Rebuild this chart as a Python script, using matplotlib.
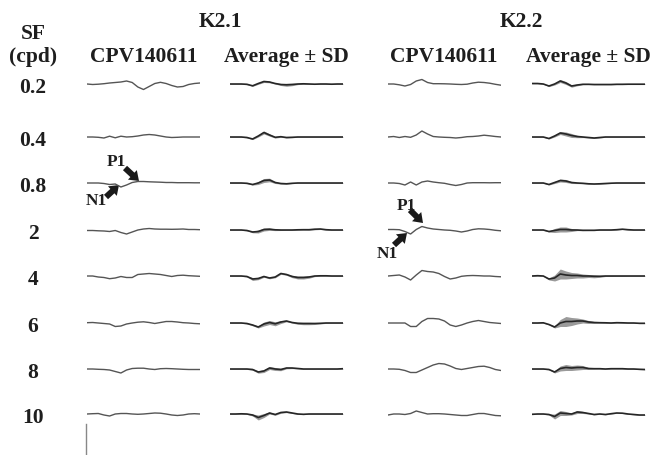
import matplotlib.pyplot as plt
import numpy as np

# ---------------------------------------------------------
# DATA (amplitude in arbitrary units)
# ---------------------------------------------------------
sf_labels = ["0.2", "0.4", "0.8", "2", "4", "6", "8", "10"]
groups = ["K2.1", "K2.2"]
col_titles = ["CPV140611", "Average \u00b1 SD"]

t_ms = [0, 15, 30, 45, 60, 75, 90, 105, 120, 135, 150,
        165, 180, 195, 210, 225, 240, 255, 270, 285, 300]

k21_cpv = [
    [0, -0.5, -0.2, 0.3, 1.0, 1.5, 2.0, 3.0, 1.5, -3.0, -5.5, -2.5, 0.5, 1.7, 0.5, -1.5, -3.0, -2.5, -0.5, 0.5, 1.0],
    [0, 0, -0.3, -1.0, 0.8, -0.8, 0.8, 0, 0.3, 1.0, 2.0, 2.5, 2.0, 1.0, 0, -0.5, -0.3, 0, 0, 0, 0],
    [0, 0, 0, -0.5, -1.5, -1.0, -4.0, -2.0, 0.5, 1.5, 1.5, 1.2, 1.0, 0.8, 0.5, 0.5, 0.3, 0.3, 0.3, 0.2, 0.2],
    [-0.5, -0.5, -0.8, -1.0, -1.5, -0.5, -2.5, -4.0, -2.0, 0, 1.0, 1.5, 1.0, 0.8, 0.8, 0.7, 0.8, 1.0, 0.5, 0.5, 0.3],
    [0, 0, -1.0, -1.5, -2.7, -2.0, -0.5, -1.5, -1.5, 1.5, 2.0, 2.5, 2.0, 1.5, 0.5, -0.5, 0.5, 0.8, 0.3, 0, -0.3],
    [0.3, 0.5, 0, -0.5, -1.0, -3.5, -3.0, -1.0, 0, 0.8, 1.2, 0.5, -0.5, 0.5, 1.5, 1.5, 1.0, 0.3, 0, -0.5, -0.8],
    [0, 0, -0.3, -0.5, -1.0, -2.5, -4.0, -1.0, 0.5, 0.8, 0.8, 0, -0.5, 0.3, 0.5, 0.3, 0, -0.3, -0.5, -0.5, -0.5],
    [0, 0.3, 0.5, -1.0, -2.0, 0, 0.5, 0.5, 0, -0.3, 0, 0.5, 1.0, 0.8, 0, -1.0, -1.5, -1.0, 0, 0.3, 0],
]

k21_avg = [
    [0, 0, 0, -0.3, -1.8, 0.5, 2.5, 2.0, 0.5, -0.5, -0.8, -0.5, 0, 0.2, 0, -0.2, 0, 0, -0.2, 0, 0],
    [0, 0, 0, -0.5, -2.0, 1.0, 4.5, 2.0, -0.3, 0.3, -0.5, -0.3, 0, 0, 0, 0, 0, 0, 0, 0, 0],
    [0, 0, 0, -0.3, -1.5, 0, 2.5, 3.0, 0.5, -0.5, -0.8, -0.3, 0, 0, 0, 0, 0, 0, 0, 0, 0],
    [0, 0, 0, -0.5, -2.0, -1.5, 0.5, 0.8, 0.2, 0, 0, 0, 0.2, 0.3, 0.3, 0.8, 1.0, 0.3, 0, 0, 0],
    [0, 0, 0, -0.5, -3.0, -2.5, -0.5, -2.0, -1.0, 2.5, 1.5, -0.5, -1.5, -1.5, -1.0, 0, 0.2, 0.2, 0, 0, 0],
    [0, 0, 0, -0.5, -2.0, -4.0, -1.0, 0.5, -0.8, 1.0, 2.0, 0.5, -0.3, -0.5, -0.5, -0.5, -0.3, 0, 0, 0, 0],
    [0, 0, 0, 0, -0.5, -3.0, -2.0, 1.0, 0, -0.5, 1.0, 1.0, 0.5, 0, 0, 0, 0, 0, 0, 0, 0.3],
    [0, 0, 0.2, 0, -1.0, -3.5, -1.5, 1.0, -0.5, 1.5, 2.0, 1.0, 0, -0.3, 0, 0, 0, 0, 0, 0, 0],
]

k21_sd = [
    [0.3, 0.3, 0.3, 0.4, 0.6, 0.8, 1.0, 0.8, 0.6, 1.0, 1.5, 1.2, 0.6, 0.4, 0.3, 0.3, 0.3, 0.3, 0.3, 0.3, 0.3],
    [0.3, 0.3, 0.3, 0.4, 0.6, 1.0, 1.5, 1.2, 0.8, 0.6, 0.5, 0.4, 0.3, 0.3, 0.3, 0.3, 0.3, 0.3, 0.3, 0.3, 0.3],
    [0.3, 0.3, 0.3, 0.4, 0.6, 1.5, 2.0, 1.8, 1.0, 0.6, 0.4, 0.3, 0.3, 0.3, 0.3, 0.3, 0.3, 0.3, 0.3, 0.3, 0.3],
    [0.3, 0.3, 0.3, 0.4, 0.8, 1.5, 1.5, 1.2, 0.8, 0.5, 0.4, 0.4, 0.4, 0.4, 0.5, 0.6, 0.5, 0.4, 0.3, 0.3, 0.3],
    [0.3, 0.3, 0.3, 0.5, 1.5, 1.2, 0.8, 0.8, 0.8, 0.8, 0.8, 1.2, 1.5, 1.5, 1.2, 0.6, 0.4, 0.3, 0.3, 0.3, 0.3],
    [0.3, 0.3, 0.3, 0.5, 0.8, 1.0, 2.0, 2.0, 2.0, 1.5, 0.8, 0.6, 1.0, 1.2, 1.2, 1.0, 0.6, 0.4, 0.3, 0.3, 0.3],
    [0.3, 0.3, 0.3, 0.4, 0.8, 1.2, 1.5, 1.5, 1.5, 1.2, 0.8, 0.6, 0.4, 0.3, 0.3, 0.3, 0.3, 0.3, 0.3, 0.3, 0.3],
    [0.3, 0.3, 0.3, 0.4, 1.0, 2.5, 2.0, 1.0, 0.8, 0.8, 0.6, 0.5, 0.4, 0.3, 0.3, 0.3, 0.3, 0.3, 0.3, 0.3, 0.3],
]

k22_cpv = [
    [0, 0, -0.8, -2.0, -0.5, 3.0, 4.5, 1.5, 0.3, 0.3, 0.2, 0, -0.3, -0.5, -0.2, 1.0, 1.8, 1.5, 0.8, -0.3, -1.2],
    [0, 0.5, -0.5, 0.5, -0.3, 2.0, 6.0, 3.0, 0.5, 0, -0.3, -0.5, -1.0, -0.5, 0.3, 0.5, 1.0, 1.8, 1.2, 0.5, 0],
    [0, 0, -0.5, -2.0, 1.0, -2.0, 1.0, 2.0, 1.0, 0.3, -0.3, -1.5, -2.5, -1.5, 0, 0.3, 0.3, 0.3, 0.2, 0.3, 0.3],
    [0.5, 0.5, 0.3, -1.5, -4.0, 0.5, 3.5, 2.0, 1.0, 0.5, 0, -0.3, -1.0, -2.0, -1.0, 0.5, 1.2, 1.0, 0.5, -0.3, -0.8],
    [0, 0.5, 1.0, -1.0, -4.0, 1.0, 5.5, 4.5, 4.0, 2.5, -0.5, -3.0, -2.0, -0.3, 0.3, 0.5, 0.3, 0, 0, -0.5, -0.8],
    [0, 0, 0, 0, -3.5, -3.5, 1.5, 4.5, 4.5, 4.0, 2.0, -2.0, -3.5, -2.0, 0, 1.5, 2.5, 1.5, 0.5, 0, -0.5],
    [0, 0, -0.3, -1.5, -3.5, -3.5, -1.0, 1.5, 4.0, 5.5, 5.0, 3.0, 0.5, -0.5, 0.5, 1.5, 2.5, 2.8, 1.5, -0.5, -1.5],
    [-1.0, 0, 0, -0.5, 0.5, 3.0, 1.5, 0, 0.3, 0.3, 0, -0.5, -1.0, -1.5, -1.5, -0.5, 0.5, 0.5, -0.5, -1.5, -1.8],
]

k22_avg = [
    [0.5, 0.5, 0, -2.0, 0, 3.0, 1.0, -2.0, -1.0, -0.3, -0.3, -0.5, -0.5, -0.5, -0.5, -0.3, -0.3, -0.2, -0.2, -0.2, -0.2],
    [0, 0, 0, -1.5, 1.0, 4.0, 3.0, 1.5, 0.5, 0, -0.5, -1.0, -0.5, 0, 0, 0, 0, 0, 0, 0, 0],
    [0, 0, 0, -1.5, 0.5, 2.5, 2.0, 0.5, 0, -0.3, -0.8, -1.0, -0.8, -0.5, -0.2, 0, 0, 0, 0, 0, 0],
    [0, 0, 0, -1.5, -0.5, 0.5, 0.5, 0, 0, -0.3, -0.3, -0.3, 0, 0, 0, 0.3, 0.8, 0.3, 0, 0, 0],
    [0, 0.3, 0, -3.0, -2.0, 2.0, 1.0, 0.5, 0.5, 0, 0, -0.3, -0.3, 0, 0, 0, 0, 0, 0, 0, 0],
    [0, 0, 0.2, -1.5, -4.0, 0, 1.5, 1.5, 2.0, 2.0, 1.0, 0.5, 0.3, 0.2, 0, 0.3, 0.2, 0, 0, -0.3, -0.3],
    [0, 0, 0, -0.5, -3.0, 0.5, 1.5, 1.0, 1.5, 1.5, 0.5, 0.3, 0.3, 0, 0.3, 0.3, 0.3, 0, 0, -0.3, -0.5],
    [-0.3, 0, 0, -0.5, -2.5, 1.0, 0.5, 0, 2.0, 1.5, 0.5, -0.5, 0, -0.5, 0.3, 1.0, 0.8, 0, -0.5, -1.0, -1.0],
]

k22_sd = [
    [0.3, 0.3, 0.3, 0.6, 1.0, 1.5, 1.5, 1.2, 0.8, 0.4, 0.3, 0.3, 0.3, 0.3, 0.3, 0.3, 0.3, 0.3, 0.3, 0.3, 0.3],
    [0.3, 0.3, 0.3, 0.5, 1.0, 1.5, 2.0, 2.0, 1.2, 0.6, 0.5, 0.5, 0.4, 0.3, 0.3, 0.3, 0.3, 0.3, 0.3, 0.3, 0.3],
    [0.3, 0.3, 0.3, 0.5, 1.0, 1.5, 1.5, 1.0, 0.6, 0.4, 0.3, 0.3, 0.3, 0.3, 0.3, 0.3, 0.3, 0.3, 0.3, 0.3, 0.3],
    [0.3, 0.3, 0.3, 0.6, 2.0, 2.5, 2.5, 1.5, 0.6, 0.4, 0.3, 0.3, 0.3, 0.3, 0.3, 0.3, 0.3, 0.3, 0.3, 0.3, 0.3],
    [0.3, 0.3, 0.3, 1.0, 3.0, 5.0, 4.0, 3.0, 2.5, 2.0, 1.5, 1.5, 1.0, 0.5, 0.5, 0.4, 0.4, 0.3, 0.3, 0.3, 0.3],
    [0.3, 0.3, 0.3, 0.5, 1.0, 3.5, 5.0, 4.0, 3.0, 2.0, 1.5, 1.0, 0.5, 0.4, 0.3, 0.3, 0.3, 0.3, 0.3, 0.3, 0.3],
    [0.3, 0.3, 0.3, 0.4, 1.0, 2.5, 3.0, 2.5, 2.5, 2.0, 1.0, 0.4, 0.3, 0.3, 0.3, 0.3, 0.3, 0.3, 0.3, 0.3, 0.3],
    [0.3, 0.3, 0.3, 0.5, 2.5, 2.5, 2.0, 1.0, 1.5, 1.0, 0.5, 0.4, 0.3, 0.3, 0.3, 0.3, 0.3, 0.3, 0.3, 0.3, 0.3],
]

# ---------------------------------------------------------
# LAYOUT (pixels of the 656 x 456 canvas)
# ---------------------------------------------------------
W, H = 656, 456
col_x0 = [87, 230, 388, 532]
col_w = 113
row_y = [85, 138, 184, 231, 277, 324, 370, 415]
half_h = 15          # panel half height in px, 1 unit = 1 px

txt_col = "#1e1e1e"
serif = ["Liberation Serif", "DejaVu Serif"]

fig = plt.figure(figsize=(W / 100, H / 100), dpi=100)

# overlay axes in pixel units for text, arrows, scale bar
ov = fig.add_axes([0, 0, 1, 1])
ov.set_xlim(0, W)
ov.set_ylim(H, 0)
ov.axis("off")


def panel(col, row):
    ax = fig.add_axes([col_x0[col] / W, 1 - (row_y[row] + half_h) / H,
                       col_w / W, 2 * half_h / H])
    ax.set_xlim(t_ms[0], t_ms[-1])
    ax.set_ylim(-half_h, half_h)
    ax.axis("off")
    return ax


t = np.array(t_ms)
for g, (cpv, avg, sd) in enumerate([(k21_cpv, k21_avg, k21_sd),
                                     (k22_cpv, k22_avg, k22_sd)]):
    for r in range(len(sf_labels)):
        # single animal trace
        ax = panel(2 * g, r)
        ax.plot(t, cpv[r], color="#555555", lw=1.0)
        # group average +/- SD
        ax = panel(2 * g + 1, r)
        m = np.array(avg[r])
        s = np.array(sd[r])
        ax.fill_between(t, m - s, m + s, color="#9a9a9a", lw=0)
        ax.plot(t, m, color="#262626", lw=1.2)

# ---------------------------------------------------------
# TEXT
# ---------------------------------------------------------
fs = 15.5
tk = dict(ha="center", va="center", family=serif, weight="bold",
          color=txt_col, fontsize=fs)
ov.text(33, 34, "SF", **tk)
ov.text(33, 57, "(cpd)", **tk)
ov.text(220, 22, groups[0], **tk)
ov.text(521, 22, groups[1], **tk)
ov.text(144, 57, col_titles[0], **tk)
ov.text(286, 57, col_titles[1], **tk)
ov.text(444, 57, col_titles[0], **tk)
ov.text(588, 57, col_titles[1], **tk)
for r, lab in enumerate(sf_labels):
    ov.text(33, row_y[r] + 3, lab, **tk)

# P1 / N1 markers: (text x, text y, tail x, tail y, head x, head y)
small = dict(tk, fontsize=12.5)
marks = [
    ("P1", 116, 162, 125, 169, 139, 182),
    ("N1", 96, 201, 106, 198, 119, 186),
    ("P1", 406, 206, 410, 211, 423, 224),
    ("N1", 387, 254, 394, 246, 407, 234),
]
for lab, tx, ty, x0, y0, x1, y1 in marks:
    ov.text(tx, ty, lab, **small)
    ov.arrow(x0, y0, x1 - x0, y1 - y0, width=6, head_width=13,
             head_length=9, length_includes_head=True,
             color="#1a1a1a", lw=0)

# vertical scale bar
ov.plot([86, 86], [425, 456], color="#888888", lw=1.0)

fig.savefig("out.png", dpi=100, facecolor="white")
